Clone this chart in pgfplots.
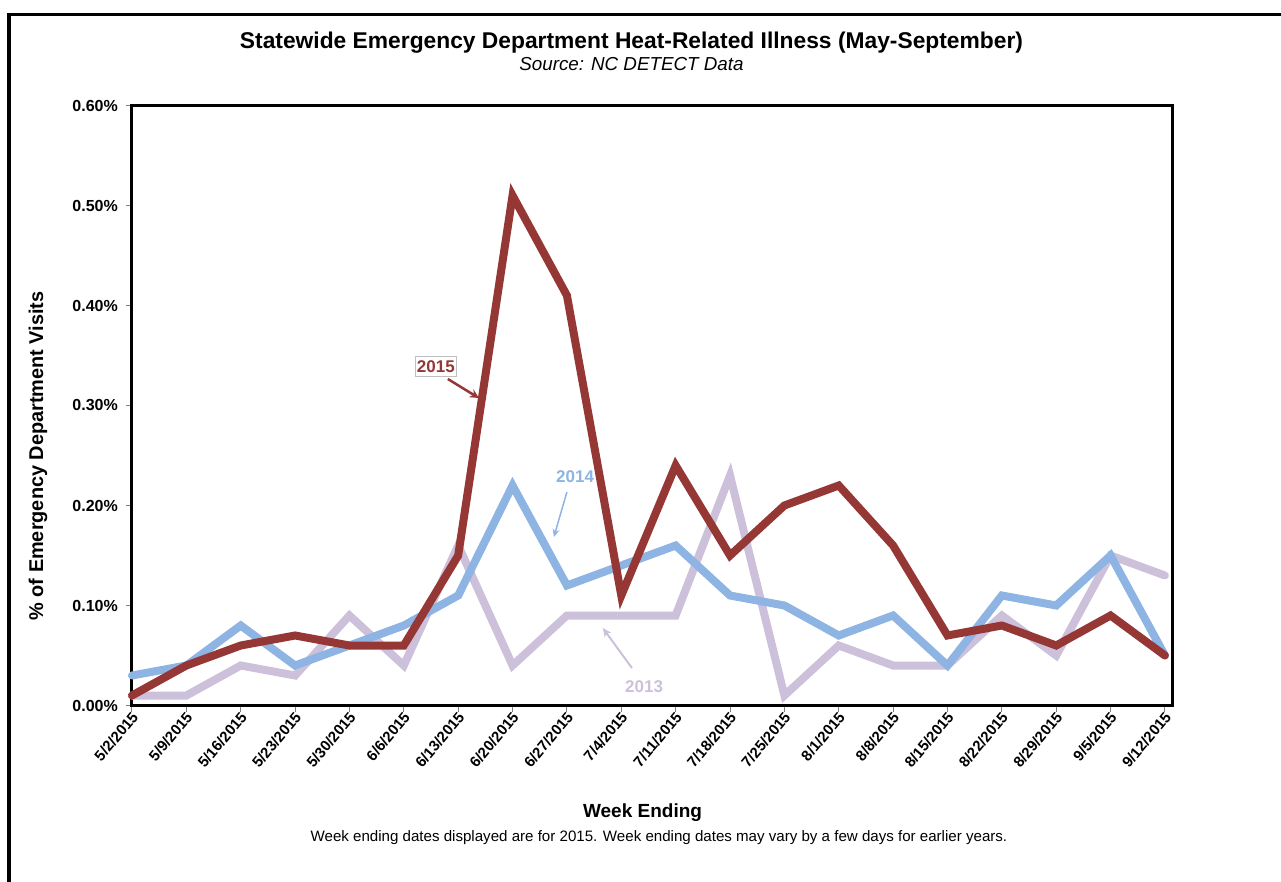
\documentclass[border=0pt]{standalone}
\usepackage{pgfplots}
\pgfplotsset{compat=1.18}
\usepackage{fontspec}
\setmainfont{Liberation Sans}
\usetikzlibrary{arrows.meta}

\definecolor{c2015}{HTML}{953735}
\definecolor{c2014}{HTML}{8DB4E2}
\definecolor{c2013}{HTML}{CCC0DA}
\definecolor{tickgray}{HTML}{808080}

\newcommand{\fs}[1]{\fontsize{#1}{#1}\selectfont}

\begin{document}
\begin{tikzpicture}
  % page: 1281 x 882, axis box lower left at (0,0)
  \useasboundingbox (-132bp,-176.5bp) rectangle (1149bp,705.5bp);
  \draw[line width=3.5bp, line join=miter] (-123bp,-176.5bp) -- (-123bp,691.1bp) -- (1149bp,691.1bp);

  \begin{axis}[
    at={(0,0)}, anchor=south west,
    width=1040bp, height=600bp, scale only axis,
    xmin=0, xmax=19.13,
    ymin=0, ymax=0.6,
    clip=false,
    axis line style={line width=3bp, black},
    tick align=outside,
    xtick pos=bottom, ytick pos=left,
    major tick length=6bp,
    every tick/.style={tickgray, line width=1bp},
    xtick={0,...,19},
    xticklabels={5/2/2015,5/9/2015,5/16/2015,5/23/2015,5/30/2015,6/6/2015,6/13/2015,6/20/2015,6/27/2015,7/4/2015,7/11/2015,7/18/2015,7/25/2015,8/1/2015,8/8/2015,8/15/2015,8/22/2015,8/29/2015,9/5/2015,9/12/2015},
    xticklabel style={font=\fs{15bp}\bfseries, rotate=50, anchor=east, inner sep=1bp, yshift=-4bp, xshift=1bp},
    ytick={0,0.1,0.2,0.3,0.4,0.5,0.6},
    yticklabels={0.00\%,0.10\%,0.20\%,0.30\%,0.40\%,0.50\%,0.60\%},
    yticklabel style={font=\fs{16bp}\bfseries, inner sep=0bp, xshift=-8bp},
    title={Statewide Emergency Department Heat-Related Illness (May-September)},
    title style={font=\fs{22.8bp}\bfseries, at={(axis description cs:0.4803,1.109)}, anchor=center, yshift=-9bp},
    ylabel={\% of Emergency Department Visits},
    ylabel style={font=\fs{19.9bp}\bfseries, at={(axis description cs:-0.0904,0.416)}, anchor=center},
    xlabel={Week Ending},
    xlabel style={font=\fs{19bp}\bfseries, at={(axis description cs:0.4909,-0.1758)}, anchor=center, yshift=-2bp},
  ]

    \addplot[c2013, line width=8bp, line join=miter, line cap=round] coordinates {
      (0,0.01) (1,0.01) (2,0.04) (3,0.03) (4,0.09) (5,0.04) (6,0.16) (7,0.04)
      (8,0.09) (9,0.09) (10,0.09) (11,0.23) (12,0.01) (13,0.06) (14,0.04)
      (15,0.04) (16,0.09) (17,0.05) (18,0.15) (19,0.13)
    };

    \addplot[c2014, line width=8bp, line join=miter, line cap=round] coordinates {
      (0,0.03) (1,0.04) (2,0.08) (3,0.04) (4,0.06) (5,0.08) (6,0.11) (7,0.22)
      (8,0.12) (9,0.14) (10,0.16) (11,0.11) (12,0.10) (13,0.07) (14,0.09)
      (15,0.04) (16,0.11) (17,0.10) (18,0.15) (19,0.05)
    };

    \addplot[c2015, line width=8bp, line join=miter, line cap=round] coordinates {
      (0,0.01) (1,0.04) (2,0.06) (3,0.07) (4,0.06) (5,0.06) (6,0.15) (7,0.51)
      (8,0.41) (9,0.11) (10,0.24) (11,0.15) (12,0.20) (13,0.22) (14,0.16)
      (15,0.07) (16,0.08) (17,0.06) (18,0.09) (19,0.05)
    };

    % annotations
    \node[draw=gray!50, line width=0.7bp, text=c2015, font=\fs{17bp}\bfseries, inner xsep=2bp, inner ysep=4bp]
      at (axis cs:5.59,0.339) {2015};
    \draw[c2015, line width=2.5bp, -{Stealth[length=9bp,width=9bp]}] (axis cs:5.81,0.3265) -- (axis cs:6.38,0.3075);

    \node[text=c2014, font=\fs{17bp}\bfseries] at (axis cs:8.15,0.2285) {2014};
    \draw[c2014, line width=1.5bp, -{Stealth[length=8bp,width=7bp]}] (axis cs:8.0,0.2135) -- (axis cs:7.76,0.1685);

    \node[text=c2013, font=\fs{17bp}\bfseries] at (axis cs:9.42,0.0185) {2013};
    \draw[c2013, line width=2bp, -{Stealth[length=9bp,width=8bp]}] (axis cs:9.196,0.0375) -- (axis cs:8.66,0.0775);

    \node[font=\fs{18.8bp}\itshape] at (axis description cs:0.4803,1.069) {Source: NC DETECT Data};
    \node[font=\fs{15.1bp}] at (axis description cs:0.5067,-0.2208)
      {Week ending dates displayed are for 2015. Week ending dates may vary by a few days for earlier years.};
  \end{axis}
\end{tikzpicture}
\end{document}
